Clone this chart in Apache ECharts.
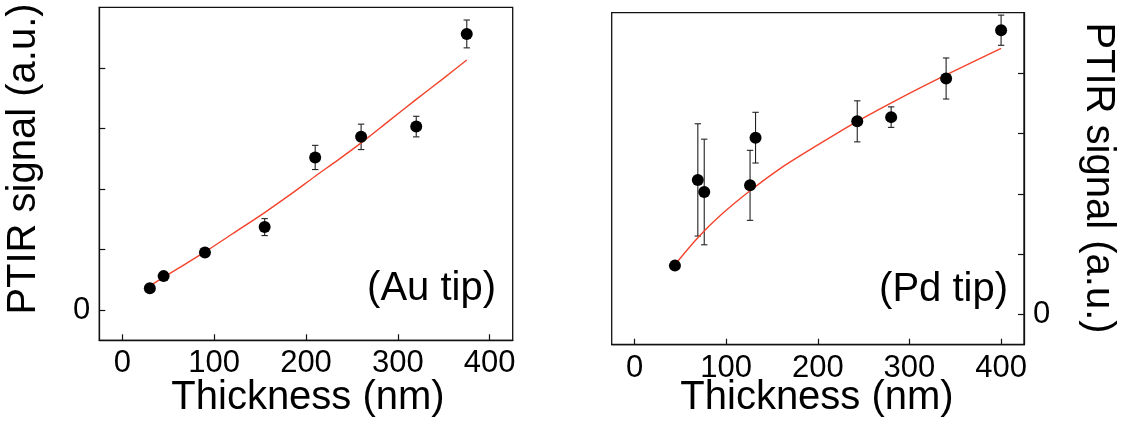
<!DOCTYPE html>
<html>
<head>
<meta charset="utf-8">
<script src="https://cdn.jsdelivr.net/npm/echarts@6/dist/echarts.min.js"></script>
<style>
html,body{margin:0;padding:0;background:#fff;}
#chart{width:1123px;height:434px;}
</style>
</head>
<body>
<div id="chart"></div>
<script>
// ---- data ----
const xTickValues = [0, 100, 200, 300, 400];
const yTickValues = [0, 1, 2, 3, 4];
const yLabelValues = [0];

// Au tip panel
const auThickness = [30, 45, 90, 155, 210, 260, 320, 375];
const auSignal    = [0.36, 0.56, 0.95, 1.37, 2.52, 2.86, 3.03, 4.56];
const auError     = [0.04, 0.04, 0.04, 0.14, 0.20, 0.21, 0.17, 0.23];
const auFitX      = [30, 60, 90, 120, 155, 185, 210, 235, 260, 290, 320, 350, 375];
const auFitY      = [0.40, 0.68, 0.96, 1.26, 1.61, 1.93, 2.21, 2.48, 2.76, 3.12, 3.48, 3.83, 4.13];

// Pd tip panel
const pdThickness = [44, 69, 76, 126, 132, 243, 280, 340, 400];
const pdSignal    = [0.81, 2.23, 2.03, 2.14, 2.93, 3.20, 3.27, 3.91, 4.71];
const pdError     = [0.05, 0.93, 0.875, 0.58, 0.42, 0.34, 0.17, 0.34, 0.25];
const pdFitX      = [45, 70, 95, 126, 160, 200, 243, 288, 340, 400];
const pdFitY      = [0.845, 1.29, 1.66, 2.05, 2.43, 2.81, 3.20, 3.57, 3.97, 4.41];

const xAxisTitle = 'Thickness (nm)';
const yAxisTitle = 'PTIR signal (a.u.)';
const auTag = '(Au tip)';
const pdTag = '(Pd tip)';

// ---- helpers ----
const FONT = '"Liberation Sans", Arial, Helvetica, sans-serif';
const INK = '#111';
const zip = (a, b) => a.map((v, i) => [v, b[i]]);
const errData = (x, y, e) => x.map((v, i) => [v, y[i] - e[i], y[i] + e[i]]);

function errRender(params, api) {
  const x = api.value(0), lo = api.value(1), hi = api.value(2);
  const pt = api.coord([x, hi]);
  const pb = api.coord([x, lo]);
  const w = 3.2;
  const st = { stroke: '#222', lineWidth: 1.1 };
  return {
    type: 'group',
    children: [
      { type: 'line', shape: { x1: pt[0], y1: pt[1], x2: pb[0], y2: pb[1] }, style: st },
      { type: 'line', shape: { x1: pt[0] - w, y1: pt[1], x2: pt[0] + w, y2: pt[1] }, style: st },
      { type: 'line', shape: { x1: pb[0] - w, y1: pb[1], x2: pb[0] + w, y2: pb[1] }, style: st }
    ]
  };
}

function xAxisDef(gi) {
  return {
    type: 'value', gridIndex: gi, min: -25, max: 425, position: 'bottom',
    axisLine: { show: true, onZero: false, lineStyle: { color: INK, width: 1.3 } },
    splitLine: { show: false },
    axisTick: { show: true, inside: true, length: 6, customValues: xTickValues, lineStyle: { color: INK, width: 1.2 } },
    axisLabel: { show: true, customValues: xTickValues, fontSize: 31, fontFamily: FONT, color: '#000', margin: 8 }
  };
}
function yAxisDef(gi, pos) {
  return {
    type: 'value', gridIndex: gi, min: -0.5, max: 5, position: pos,
    axisLine: { show: true, onZero: false, lineStyle: { color: INK, width: 1.3 } },
    splitLine: { show: false },
    axisTick: { show: true, inside: true, length: 6, customValues: yTickValues, lineStyle: { color: INK, width: 1.2 } },
    axisLabel: { show: true, customValues: yLabelValues, fontSize: 31, fontFamily: FONT, color: '#000', margin: 9 }
  };
}

const chart = echarts.init(document.getElementById('chart'), null, { renderer: 'canvas' });
const fitColor = '#f4432b';

chart.setOption({
  animation: false,
  backgroundColor: '#fff',
  grid: [
    { left: 99.3, top: 7.3, width: 413.4, height: 333, show: true, borderColor: INK, borderWidth: 1.3, backgroundColor: 'transparent' },
    { left: 611.7, top: 12.7, width: 412.3, height: 332, show: true, borderColor: INK, borderWidth: 1.3, backgroundColor: 'transparent' }
  ],
  xAxis: [xAxisDef(0), xAxisDef(1)],
  yAxis: [yAxisDef(0, 'left'), yAxisDef(1, 'right')],
  series: [
    { type: 'line', xAxisIndex: 0, yAxisIndex: 0, data: zip(auFitX, auFitY), smooth: 0.3, showSymbol: false,
      lineStyle: { color: fitColor, width: 1.4 }, z: 3 },
    { type: 'custom', xAxisIndex: 0, yAxisIndex: 0, data: errData(auThickness, auSignal, auError),
      encode: { x: 0, y: [1, 2] }, renderItem: errRender, z: 2 },
    { type: 'scatter', xAxisIndex: 0, yAxisIndex: 0, data: zip(auThickness, auSignal), symbol: 'circle', symbolSize: 12,
      itemStyle: { color: '#000', opacity: 1 }, z: 4 },

    { type: 'line', xAxisIndex: 1, yAxisIndex: 1, data: zip(pdFitX, pdFitY), smooth: 0.3, showSymbol: false,
      lineStyle: { color: fitColor, width: 1.4 }, z: 3 },
    { type: 'custom', xAxisIndex: 1, yAxisIndex: 1, data: errData(pdThickness, pdSignal, pdError),
      encode: { x: 0, y: [1, 2] }, renderItem: errRender, z: 2 },
    { type: 'scatter', xAxisIndex: 1, yAxisIndex: 1, data: zip(pdThickness, pdSignal), symbol: 'circle', symbolSize: 12,
      itemStyle: { color: '#000', opacity: 1 }, z: 4 }
  ],
  graphic: [
    { type: 'text', x: 308, y: 398, style: { text: xAxisTitle, font: '40px ' + FONT, fill: '#000', textAlign: 'center', textVerticalAlign: 'middle' } },
    { type: 'text', x: 817, y: 398, style: { text: xAxisTitle, font: '40px ' + FONT, fill: '#000', textAlign: 'center', textVerticalAlign: 'middle' } },
    { type: 'text', x: 24, y: 159, rotation: Math.PI / 2, style: { text: yAxisTitle, font: '40px ' + FONT, fill: '#000', textAlign: 'center', textVerticalAlign: 'middle' } },
    { type: 'text', x: 1098, y: 178, rotation: -Math.PI / 2, style: { text: yAxisTitle, font: '40px ' + FONT, fill: '#000', textAlign: 'center', textVerticalAlign: 'middle' } },
    { type: 'text', x: 496, y: 289, style: { text: auTag, font: '40px ' + FONT, fill: '#000', textAlign: 'right', textVerticalAlign: 'middle' } },
    { type: 'text', x: 1008, y: 290, style: { text: pdTag, font: '40px ' + FONT, fill: '#000', textAlign: 'right', textVerticalAlign: 'middle' } }
  ]
});
</script>
</body>
</html>
